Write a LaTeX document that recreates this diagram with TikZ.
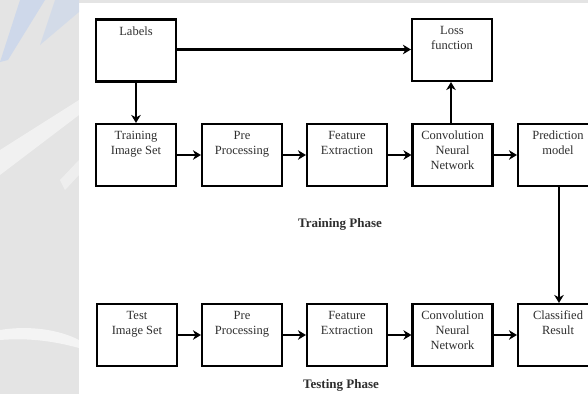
\documentclass[tikz,border=0pt]{standalone}
\usepackage{fontspec}
\setmainfont{Liberation Serif}
\usetikzlibrary{arrows.meta}
\definecolor{txt}{HTML}{2E2E2E}
\definecolor{wm}{HTML}{E4E4E4}
\definecolor{wmb}{HTML}{C9D6EC}
\begin{document}
\begin{tikzpicture}[x=1pt,y=-1pt,
  box/.style={draw=black,line width=2.1pt,minimum width=80pt,minimum height=62pt,inner sep=0pt,fill=white},
  lbl/.style={anchor=north,align=center,font=\fontsize{12.5}{15}\selectfont,text=txt,inner sep=0pt},
  arr/.style={draw=black,line width=2.6pt,-{Stealth[length=8pt,width=9.5pt,inset=2.5pt]}},
  phase/.style={font=\fontsize{13}{15}\selectfont\bfseries,text=txt}]
\useasboundingbox (0,0) rectangle (588,394);
% background watermark
\fill[wm] (0,0) rectangle (79,394);
\fill[wm] (79,0) rectangle (588,3);
\fill[white] (79,3) rectangle (588,394);
\fill[wmb,opacity=0.8] (20,0) -- (45,0) -- (8,60) -- (0,62) -- cycle;
\fill[wmb,opacity=0.6] (55,0) -- (79,0) -- (79,12) -- (40,45) -- cycle;
\fill[white,opacity=0.5] (0,150) -- (79,100) -- (79,115) -- (0,175) -- cycle;
\fill[white,opacity=0.4] (60,180) -- (79,160) -- (79,175) -- (65,190) -- cycle;
\fill[white,opacity=0.6] (0,330) .. controls (30,325) and (60,330) .. (79,340) -- (79,348) .. controls (50,340) and (25,338) .. (0,340) -- cycle;
% boxes
\node[box] (lab) at (136,50.5) {};
\node[box] (loss) at (452,50) {};
\node[box] (t1) at (136,155) {};
\node[box] (t2) at (242,155) {};
\node[box] (t3) at (347,155) {};
\node[box] (t4) at (452.5,155) {};
\node[box] (t5) at (558,155) {};
\node[box] (s1) at (137,335) {};
\node[box] (s2) at (242,335) {};
\node[box] (s3) at (347,335) {};
\node[box] (s4) at (452.5,335) {};
\node[box] (s5) at (558,335) {};
% texts
\node[lbl] (labt) at ([yshift=-8pt]lab.north) {Labels};
\node[lbl] (losst) at ([yshift=-8pt]loss.north) {Loss\\function};
\node[lbl] (t1t) at ([yshift=-8pt]t1.north) {Training\\Image Set};
\node[lbl] (t2t) at ([yshift=-8pt]t2.north) {Pre\\Processing};
\node[lbl] (t3t) at ([yshift=-8pt]t3.north) {Feature\\Extraction};
\node[lbl] (t4t) at ([yshift=-8pt]t4.north) {Convolution\\Neural\\Network};
\node[lbl] (t5t) at ([yshift=-8pt]t5.north) {Prediction\\model};
\node[lbl] (s1t) at ([yshift=-8pt]s1.north) {Test\\Image Set};
\node[lbl] (s2t) at ([yshift=-8pt]s2.north) {Pre\\Processing};
\node[lbl] (s3t) at ([yshift=-8pt]s3.north) {Feature\\Extraction};
\node[lbl] (s4t) at ([yshift=-8pt]s4.north) {Convolution\\Neural\\Network};
\node[lbl] (s5t) at ([yshift=-8pt]s5.north) {Classified\\Result};
\node[phase] (ph1) at (340,224) {Training Phase};
\node[phase] (ph2) at (341,385) {Testing Phase};
% arrows
\draw[arr] (lab.east |- 0,49.5) -- (loss.west |- 0,49.5);
\draw[arr] (lab.south) -- (t1.north);
\draw[arr] (t1) -- (t2);
\draw[arr] (t2) -- (t3);
\draw[arr] (t3) -- (t4);
\draw[arr] (t4) -- (t5);
\draw[arr] ([xshift=-1.5pt]t4.north) -- ([xshift=-1pt]loss.south);
\draw[arr] ([xshift=1pt]t5.south) -- ([xshift=1pt]s5.north);
\draw[arr] (s1) -- (s2);
\draw[arr] (s2) -- (s3);
\draw[arr] (s3) -- (s4);
\draw[arr] (s4) -- (s5);
\end{tikzpicture}
\end{document}
